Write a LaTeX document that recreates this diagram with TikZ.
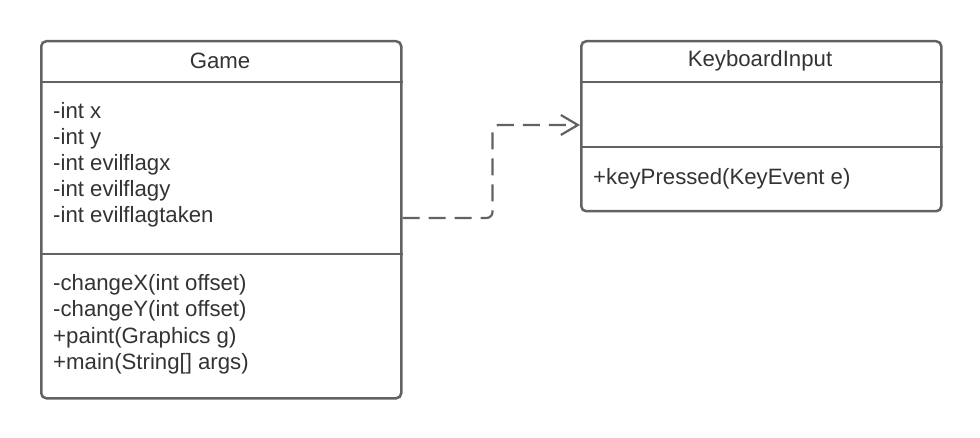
\documentclass[tikz,border=0pt]{standalone}
\usepackage{fontspec}
\setmainfont{Liberation Sans}
\usetikzlibrary{arrows.meta}
\definecolor{boxgray}{HTML}{626262}
\definecolor{textgray}{HTML}{333333}
\tikzset{
  umlbox/.style={draw=boxgray,line width=2.5pt,rounded corners=5pt,inner sep=0pt,anchor=north west},
  umlline/.style={draw=boxgray,line width=2.5pt},
  umltext/.style={text=textgray,font=\fontsize{22.2}{26}\selectfont,inner sep=0pt},
  depend/.style={draw=boxgray,line width=2.2pt,dash pattern=on 17pt off 9pt,rounded corners=6pt,
    -{Straight Barb[length=17pt,width=20pt,line width=2.2pt]}}
}
\begin{document}
\begin{tikzpicture}[x=1pt,y=-1pt]
    \useasboundingbox (0,0) rectangle (980,438);
    % class Game
    \node [umlbox,minimum width=360pt,minimum height=357pt] (game) at (40,40) {};
    \draw [umlline] (game.west |- 0,82) -- (game.east |- 0,82);
    \draw [umlline] (game.west |- 0,254) -- (game.east |- 0,254);
    \node [umltext] (gametitle) at (220,61) {Game};
    \foreach \t [count=\i] in {-int x,-int y,-int evilflagx,-int evilflagy,-int evilflagtaken}
      \node [umltext,anchor=base west] (gattr\i) at (53,93+26*\i) {\t};
    \foreach \t [count=\i] in {-changeX(int offset),-changeY(int offset),+paint(Graphics g),+main(String[] args)}
      \node [umltext,anchor=base west] (gop\i) at (53,265+26*\i) {\t};
    % class KeyboardInput
    \node [umlbox,minimum width=360pt,minimum height=170pt] (kbd) at (580,40) {};
    \draw [umlline] (kbd.west |- 0,82) -- (kbd.east |- 0,82);
    \draw [umlline] (kbd.west |- 0,147) -- (kbd.east |- 0,147);
    \node [umltext] (kbdtitle) at (760,61) {KeyboardInput};
    \node [umltext,anchor=base west] (kop1) at (593,185) {+keyPressed(KeyEvent e)};
    % dependency
    \coordinate (gdep) at (game.east |- 0,218);
    \coordinate (kdep) at (kbd.west |- 0,125);
    \draw [depend] (gdep) -- ++(90,0) |- (kdep);
\end{tikzpicture}
\end{document}
